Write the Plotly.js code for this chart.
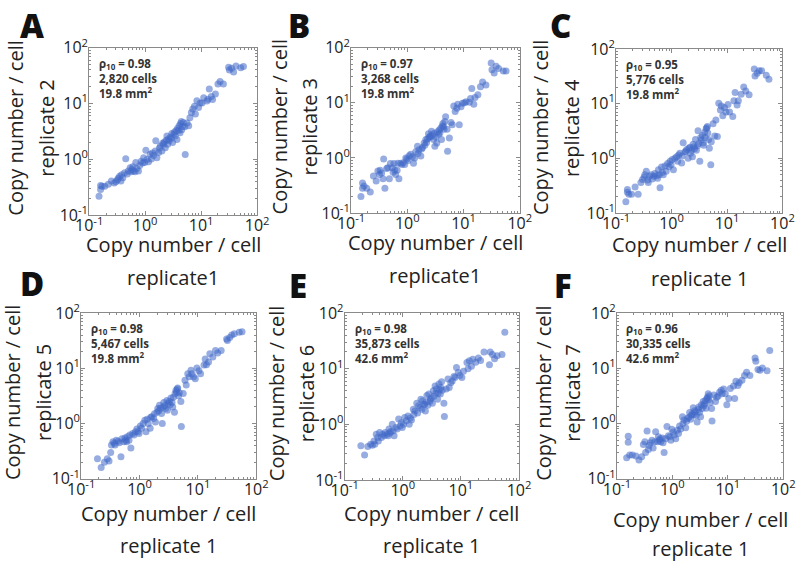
<!DOCTYPE html>
<html>
<head>
<meta charset="utf-8">
<script src="https://cdn.plot.ly/plotly-3.0.1.min.js"></script>
<style>body{margin:0;background:#fff}</style>
</head>
<body>
<div id="fig" style="width:796px;height:562px;"></div>
<script>
// copy number / cell in replicate 1 (shared x of every panel)
var rep1 = [0.15,0.16,0.16,0.17,0.19,0.22,0.25,0.28,0.30,0.32,
  0.33,0.35,0.37,0.38,0.40,0.43,0.45,0.48,0.50,0.54,
  0.56,0.58,0.60,0.62,0.66,0.68,0.71,0.76,0.80,0.85,
  0.90,0.94,0.98,1.03,1.08,1.15,1.23,1.29,1.35,1.41,
  1.52,1.55,1.62,1.74,1.80,1.87,1.99,2.05,2.14,2.20,
  2.29,2.38,2.45,2.53,2.60,2.70,2.80,2.94,3.00,3.09,
  3.23,3.35,3.45,3.60,3.70,3.80,3.96,4.06,4.20,4.30,
  4.43,4.50,4.65,4.80,5.10,5.20,5.60,6.00,6.30,6.70,
  7.10,7.60,7.90,8.40,9.00,9.60,10.4,11.1,12.7,13.3,
  14.0,15.2,16.0,18.0,20.0,21.8,25.0,31.0,32.0,35.0,
  38.0,42.0,51.0,57.0];

var rep2 = [0.22,0.34,0.29,0.33,0.33,0.36,0.41,0.38,0.40,0.43,
  0.46,0.50,0.41,0.53,0.47,0.58,1.03,0.55,0.62,0.71,
  0.60,0.66,0.74,0.62,0.60,0.88,0.69,0.62,0.78,0.93,
  0.86,1.07,0.88,1.46,1.00,0.91,1.24,1.02,1.30,1.17,
  1.41,2.15,1.07,1.33,1.60,1.74,1.41,1.95,1.87,2.05,
  1.62,2.20,2.64,1.87,2.30,2.15,2.50,2.40,2.90,2.00,
  2.83,3.10,2.64,3.30,2.28,3.60,3.30,4.00,3.00,4.40,
  4.78,3.40,3.90,4.60,3.85,1.23,4.50,4.00,5.60,6.95,
  8.0,9.0,6.5,11.3,8.5,10.2,10.3,12.7,11.1,12.0,
  18.3,13.4,11.8,14.8,22.5,25.0,22.5,44.9,40.0,43.0,
  37.0,47.0,44.0,46.0];

var rep3 = [0.20,0.35,0.28,0.31,0.28,0.24,0.47,0.38,0.58,0.50,
  0.60,0.53,0.42,0.96,0.28,0.64,0.66,0.42,0.79,0.66,
  0.55,0.79,0.60,0.50,0.60,0.80,0.42,0.80,0.76,0.82,
  0.76,1.00,0.96,0.90,1.10,1.16,1.05,0.80,1.00,1.30,
  1.63,1.20,1.41,1.08,1.45,1.55,1.87,1.70,2.15,1.90,
  2.20,2.75,2.40,2.37,2.50,3.05,2.60,2.15,2.80,1.63,
  2.40,1.87,3.00,2.70,3.20,2.83,3.50,2.15,3.80,4.20,
  3.70,3.30,4.60,5.60,3.30,1.32,2.30,4.40,4.00,8.80,
  7.0,8.0,9.4,4.0,8.5,9.8,10.0,10.5,10.2,12.0,
  18.3,9.4,12.5,14.0,19.6,24.0,21.0,53.0,40.0,35.0,
  46.0,42.0,38.0,38.0];

var rep4 = [0.16,0.27,0.24,0.22,0.22,0.30,0.22,0.36,0.41,0.45,
  0.50,0.58,0.40,0.36,0.47,0.50,0.42,0.47,0.53,0.48,
  0.43,0.62,0.50,0.29,0.69,0.55,0.50,0.72,0.58,0.80,
  0.70,0.88,0.76,0.95,0.62,1.00,1.07,0.88,1.15,1.24,
  0.82,1.10,1.92,1.30,1.33,1.45,1.00,1.52,1.60,1.24,
  1.40,1.07,1.80,1.62,1.50,2.20,1.41,1.70,3.20,1.87,
  0.88,2.40,2.15,2.60,1.90,1.74,3.00,2.40,3.45,3.60,
  3.80,2.90,2.20,1.52,0.76,2.00,4.30,2.55,5.00,2.50,
  10.1,7.6,9.0,6.0,8.5,7.0,9.6,7.0,5.8,11.3,
  16.0,9.4,11.3,14.8,20.0,17.0,14.5,43.0,32.0,36.0,
  40.0,40.0,33.0,28.0];

var rep5 = [null,null,null,null,0.23,0.16,0.20,0.23,0.21,0.30,
  0.41,0.47,0.44,0.41,0.50,0.48,0.45,0.25,0.53,0.47,
  0.55,0.50,0.47,0.58,0.50,0.62,0.36,0.66,0.62,0.71,
  0.80,0.71,0.66,0.90,0.82,1.00,1.15,0.71,1.20,1.00,
  0.82,1.30,1.33,1.24,1.50,1.07,1.60,1.87,1.70,2.15,
  1.90,1.52,1.00,2.00,2.40,2.10,1.87,2.60,1.74,2.30,
  2.50,2.20,2.90,2.40,2.00,3.00,1.60,3.50,4.00,3.70,
  4.20,4.40,3.20,3.60,2.50,0.88,3.50,6.05,5.00,8.00,
  7.0,9.2,8.0,7.0,6.5,10.1,9.0,8.0,11.5,14.8,
  11.6,13.0,18.3,16.0,21.0,19.0,21.0,34.0,32.0,36.0,
  40.0,42.0,45.0,46.0];

var rep6 = [null,null,null,null,0.41,0.28,0.40,0.44,0.42,0.50,
  0.44,0.66,0.58,0.50,0.71,0.58,0.66,0.62,0.71,0.66,
  0.62,0.82,0.70,0.74,1.00,0.76,0.62,0.88,0.82,1.24,
  0.93,1.07,0.88,1.00,1.33,1.16,1.41,1.00,1.30,1.20,
  1.87,1.50,1.74,2.40,1.60,2.15,2.00,2.83,1.87,2.64,
  2.30,2.28,1.74,2.50,3.30,2.20,3.50,2.60,2.83,3.00,
  2.40,4.00,3.20,4.90,3.60,4.30,2.83,3.60,5.30,4.20,
  3.50,4.60,5.80,4.10,2.40,1.38,4.30,6.50,4.60,5.60,
  6.0,7.2,6.95,10.5,8.5,7.5,6.95,9.0,12.9,10.0,
  13.9,11.0,14.8,13.0,15.5,14.0,20.0,11.8,20.0,18.0,
  15.0,17.0,18.0,45.0];

var rep7 = [0.24,0.59,0.46,0.27,0.27,0.26,0.22,0.25,0.42,0.47,
  0.30,0.73,0.34,0.40,0.45,0.50,0.36,0.47,0.71,0.47,
  0.58,0.50,0.53,0.47,0.55,0.45,0.30,0.53,0.88,0.60,
  0.58,0.50,0.79,0.70,0.62,0.53,0.76,0.66,0.90,0.80,
  1.33,1.00,1.16,0.84,1.10,1.24,1.30,1.59,1.20,1.41,
  1.50,1.93,1.45,1.70,1.62,1.40,1.07,1.80,2.00,1.60,
  1.33,2.20,1.87,2.50,2.10,2.28,2.60,1.90,2.83,3.00,
  3.45,2.70,3.20,2.40,1.87,1.11,3.30,2.50,3.00,3.15,
  3.7,4.0,3.45,4.2,3.45,2.2,2.83,4.3,4.8,2.83,
  5.8,4.9,5.5,6.05,7.4,8.5,7.4,15.3,13.4,9.5,
  9.2,10.1,9.0,21.0];

var series = [rep2, rep3, rep4, rep5, rep6, rep7];
var letters = ['A', 'B', 'C', 'D', 'E', 'F'];
var yLabels = ['replicate 2', 'replicate 3', 'replicate 4', 'replicate 5', 'replicate 6', 'replicate 7'];
var xLabels = ['replicate1', 'replicate1', 'replicate 1', 'replicate 1', 'replicate 1', 'replicate 1'];
var rhos = ['0.98', '0.97', '0.95', '0.98', '0.98', '0.96'];
var cellCounts = ['2,820', '3,268', '5,776', '5,467', '35,873', '30,335'];
var areas = ['19.8', '19.8', '19.8', '19.8', '42.6', '42.6'];
var tickVals = [0.1, 1, 10, 100];
var tickText = ['10<sup>-1</sup>', '10<sup>0</sup>', '10<sup>1</sup>', '10<sup>2</sup>'];
var axisTitle = 'Copy number / cell';

// panel boxes (paper fractions), letter spots (px), title offsets from the box (px)
var xDomains = [[0.112,0.323],[0.441,0.653],[0.774,0.983],[0.102,0.322],[0.433,0.652],[0.775,0.984]];
var yDomains = [[0.617,0.915],[0.621,0.915],[0.621,0.913],[0.148,0.443],[0.146,0.443],[0.148,0.443]];
var letterPx = [[32,26],[299,26],[560,26],[32,283],[298,285],[563,285]];
var xTitleGap = [[29,62],[30,63],[32,66],[35,67],[34,66],[41,70]];
var yTitleGap = [[74,43],[72,42],[75,44],[68,37],[68,38],[73,44]];

var FONT = 'Open Sans';
var boxGrey = '#8a8a8a';
var titleFont = {family: FONT, size: 20, color: '#222'};

function logAxis(domain, anchor, labelShift) {
  return {
    type: 'log', range: [-1, 2], domain: domain, anchor: anchor,
    tickmode: 'array', tickvals: tickVals, ticktext: tickText,
    ticklabeloverflow: 'allow', ticklabelstandoff: labelShift,
    showgrid: false, zeroline: false,
    showline: true, linecolor: boxGrey, linewidth: 1, mirror: 'allticks',
    ticks: 'inside', ticklen: 4, tickcolor: boxGrey,
    minor: {ticks: 'inside', ticklen: 2, tickcolor: boxGrey, dtick: 'D1', showgrid: false},
    tickfont: {family: FONT, size: 16, color: '#222'}
  };
}

var data = [];
var layout = {
  width: 796, height: 562,
  margin: {l: 0, r: 0, t: 0, b: 0},
  paper_bgcolor: '#fff', plot_bgcolor: '#fff',
  showlegend: false,
  annotations: []
};

for (var i = 0; i < 6; i++) {
  var n = i === 0 ? '' : String(i + 1);
  var xd = 'x' + n + ' domain', yd = 'y' + n + ' domain';
  data.push({
    x: rep1, y: series[i],
    xaxis: 'x' + n, yaxis: 'y' + n,
    type: 'scatter', mode: 'markers',
    marker: {size: 7, color: 'rgba(65,105,200,0.55)', line: {width: 0}},
    hoverinfo: 'x+y'
  });
  layout['xaxis' + n] = logAxis(xDomains[i], 'y' + n, -4);
  layout['yaxis' + n] = logAxis(yDomains[i], 'x' + n, -3);

  // two-line axis titles
  [axisTitle, xLabels[i]].forEach(function (t, k) {
    layout.annotations.push({
      xref: xd, yref: yd, x: 0.5, y: 0, yshift: -xTitleGap[i][k],
      xanchor: 'center', yanchor: 'middle', showarrow: false,
      text: t, font: titleFont
    });
  });
  [axisTitle, yLabels[i]].forEach(function (t, k) {
    layout.annotations.push({
      xref: xd, yref: yd, x: 0, y: 0.5, xshift: -yTitleGap[i][k], yshift: 3,
      xanchor: 'center', yanchor: 'middle', textangle: -90, showarrow: false,
      text: t, font: titleFont
    });
  });

  layout.annotations.push({
    xref: xd, yref: yd,
    x: 0.045, y: 0.965, xanchor: 'left', yanchor: 'top', align: 'left',
    showarrow: false,
    text: 'ρ<sub>10</sub> = ' + rhos[i] + '<br>' + cellCounts[i] + ' cells<br>' + areas[i] + ' mm<sup>2</sup>',
    font: {family: FONT, size: 11.5, color: '#333', weight: 700}
  });
  layout.annotations.push({
    xref: 'paper', yref: 'paper',
    x: letterPx[i][0] / 796, y: 1 - letterPx[i][1] / 562,
    xanchor: 'center', yanchor: 'middle', showarrow: false,
    text: letters[i],
    font: {family: FONT, size: 33, color: '#111', weight: 800}
  });
}

Plotly.newPlot('fig', data, layout, {displayModeBar: false, staticPlot: true});
</script>
</body>
</html>
